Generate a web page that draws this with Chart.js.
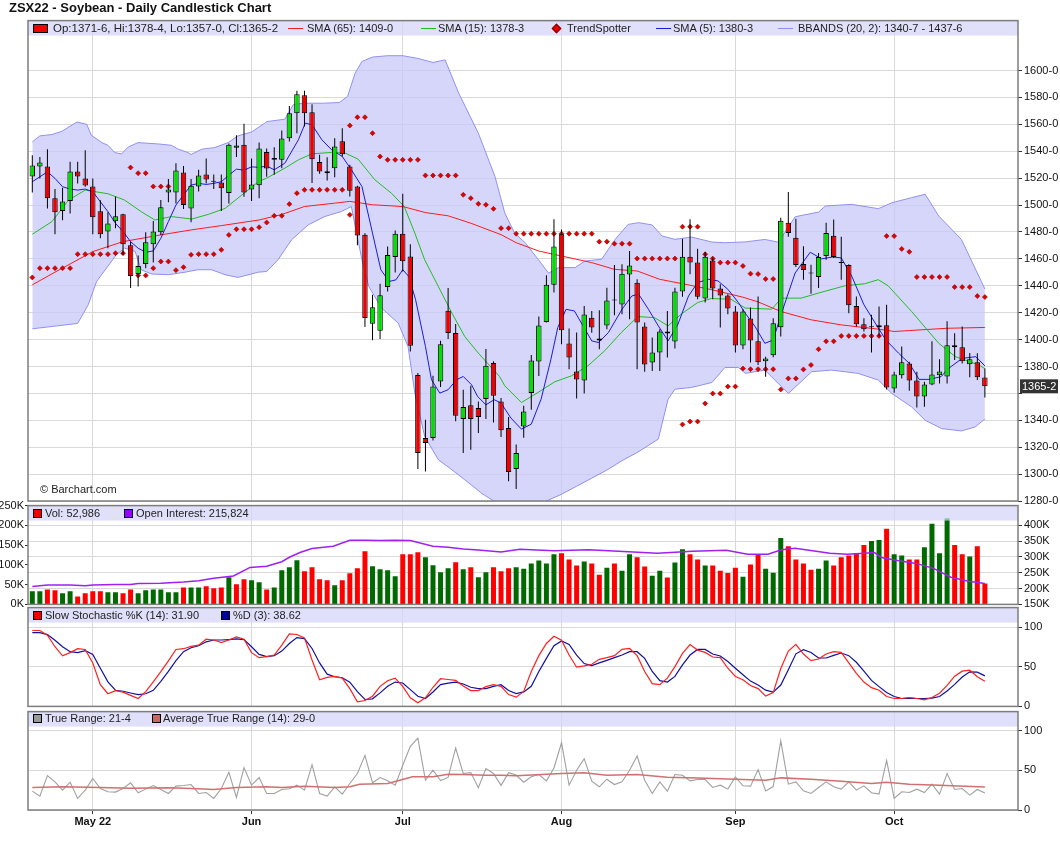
<!DOCTYPE html>
<html>
<head>
<meta charset="utf-8">
<title>ZSX22 - Soybean - Daily Candlestick Chart</title>
<script src="https://cdn.jsdelivr.net/npm/chart.js@4.4.1/dist/chart.umd.min.js"></script>
<style>
  body { margin: 0; background: #fff; font-family: "Liberation Sans", Arial, sans-serif; }
  #wrap { position: relative; width: 1060px; height: 851px; overflow: hidden; }
  canvas { position: absolute; left: 0; }
  .lbl { position: absolute; font-size: 11px; line-height: 14px; color: #222; white-space: nowrap; z-index: 5; }
  .sq { position: absolute; width: 9px; height: 9px; border: 1px solid #000; box-sizing: border-box; z-index: 5; }
  .ln { position: absolute; width: 15px; height: 1px; z-index: 5; }
</style>
</head>
<body>
<div id="wrap">
  <div class="lbl" style="left:9px;top:1px;font-weight:bold;font-size:13px;color:#111">ZSX22 - Soybean - Daily Candlestick Chart</div>

  <canvas id="cMain" width="1060" height="500" style="top:12px"></canvas>
  <canvas id="cVol" width="1060" height="116" style="top:497px"></canvas>
  <canvas id="cSto" width="1060" height="116" style="top:599px"></canvas>
  <canvas id="cTr" width="1060" height="137" style="top:703px"></canvas>

  <!-- main legend -->
  <div class="sq" style="left:33px;top:24px;width:15px;background:#f00000"></div>
  <div class="lbl" style="left:53px;top:21px;font-size:11.5px">Op:1371-6, Hi:1378-4, Lo:1357-0, Cl:1365-2</div>
  <div class="ln" style="left:288px;top:28px;background:#ff1a1a"></div>
  <div class="lbl" style="left:307px;top:21px">SMA (65): 1409-0</div>
  <div class="ln" style="left:421px;top:28px;background:#22bb22"></div>
  <div class="lbl" style="left:438px;top:21px">SMA (15): 1378-3</div>
  <div style="position:absolute;left:553px;top:25px;width:5px;height:5px;background:#e00000;border:0.5px solid #800;transform:rotate(45deg);z-index:5"></div>
  <div class="lbl" style="left:567px;top:21px">TrendSpotter</div>
  <div class="ln" style="left:656px;top:28px;background:#1a1ae0"></div>
  <div class="lbl" style="left:673px;top:21px">SMA (5): 1380-3</div>
  <div class="ln" style="left:778px;top:28px;background:#9090f0"></div>
  <div class="lbl" style="left:798px;top:21px">BBANDS (20, 2): 1340-7 - 1437-6</div>
  <div class="lbl" style="left:40px;top:482px">© Barchart.com</div>

  <!-- volume legend -->
  <div class="sq" style="left:33px;top:509px;background:#f00000"></div>
  <div class="lbl" style="left:45px;top:506px">Vol: 52,986</div>
  <div class="sq" style="left:124px;top:509px;background:#9900ff"></div>
  <div class="lbl" style="left:136px;top:506px">Open Interest: 215,824</div>

  <!-- stochastic legend -->
  <div class="sq" style="left:33px;top:611px;background:#f00000"></div>
  <div class="lbl" style="left:45px;top:608px">Slow Stochastic %K (14): 31.90</div>
  <div class="sq" style="left:221px;top:611px;background:#000099"></div>
  <div class="lbl" style="left:233px;top:608px">%D (3): 38.62</div>

  <!-- true range legend -->
  <div class="sq" style="left:33px;top:714px;background:#999"></div>
  <div class="lbl" style="left:45px;top:711px">True Range: 21-4</div>
  <div class="sq" style="left:152px;top:714px;background:#cc6666"></div>
  <div class="lbl" style="left:163px;top:711px">Average True Range (14): 29-0</div>
</div>

<script>
// ---- price candles (one per trading day) ----
var opens = [1521.2,1528.6,1528.6,1505.0,1495.6,1503.0,1524.9,1519.8,1513.8,1495.3,
  1480.3,1487.9,1493.1,1470.1,1448.7,1456.1,1470.9,1479.8,1509.4,1509.4,
  1524.2,1497.5,1513.8,1522.7,1517.3,1516.8,1508.9,1542.5,1544.9,1511.6,
  1514.8,1539.5,1534.9,1533.6,1549.7,1568.3,1581.7,1569.0,1531.9,1525.2,
  1527.4,1547.5,1528.7,1513.8,1477.9,1411.8,1406.5,1439.0,1461.3,1478.6,
  1461.8,1373.6,1326.8,1326.8,1368.9,1421.4,1404.8,1340.9,1351.1,1349.1,
  1355.8,1382.5,1354.0,1334.2,1303.8,1335.4,1360.2,1383.7,1413.1,1440.8,
  1478.2,1397.0,1376.3,1369.6,1416.3,1399.3,1410.4,1429.0,1426.0,1448.3,
  1442.3,1409.7,1382.9,1390.4,1406.0,1398.5,1435.7,1461.6,1457.2,1430.5,
  1458.7,1437.9,1432.7,1420.8,1395.6,1415.6,1398.7,1383.8,1388.3,1409.2,
  1486.8,1475.6,1456.2,1449.2,1446.5,1462.2,1477.1,1457.0,1455.5,1424.9,
  1411.4,1409.2,1409.2,1410.7,1363.7,1373.4,1382.3,1369.6,1357.7,1366.6,
  1373.4,1372.6,1394.3,1394.3,1381.6,1383.1,1371.75];
var highs = [1537.0,1535.8,1541.5,1511.9,1512.8,1532.1,1532.1,1540.7,1519.8,1503.5,
  1494.6,1506.4,1493.6,1472.8,1462.5,1479.8,1488.2,1503.7,1519.3,1531.1,
  1529.1,1519.3,1526.2,1534.6,1522.7,1522.7,1545.7,1551.9,1560.5,1534.6,
  1546.4,1542.0,1543.0,1555.4,1573.7,1584.9,1584.9,1575.0,1537.3,1535.6,
  1549.7,1557.1,1529.9,1514.3,1479.1,1433.3,1441.5,1469.2,1481.1,1508.4,
  1470.9,1375.1,1340.4,1373.1,1399.1,1438.3,1411.5,1362.7,1365.7,1354.0,
  1392.9,1383.8,1356.5,1342.4,1322.0,1350.8,1388.6,1417.1,1447.8,1489.4,
  1481.9,1408.2,1405.2,1425.0,1421.3,1421.8,1438.6,1455.4,1456.0,1465.8,
  1444.8,1412.6,1401.5,1407.7,1421.3,1438.6,1475.0,1489.4,1467.6,1465.1,
  1460.9,1441.1,1433.7,1425.0,1422.5,1423.8,1432.1,1387.3,1415.9,1490.5,
  1509.7,1489.8,1469.4,1455.7,1464.4,1486.8,1489.3,1476.4,1456.0,1432.1,
  1415.9,1418.4,1424.6,1425.9,1376.1,1394.8,1383.6,1376.1,1368.6,1398.7,
  1385.3,1413.7,1404.7,1409.7,1390.0,1389.8,1378.5];
var lows = [1509.4,1519.8,1497.5,1478.3,1488.6,1493.8,1516.1,1513.6,1478.3,1475.3,
  1467.9,1482.7,1463.0,1438.3,1439.5,1453.0,1457.3,1477.8,1502.0,1501.2,
  1497.0,1487.2,1510.0,1516.0,1512.0,1495.6,1501.2,1535.8,1506.2,1503.0,
  1505.0,1521.0,1522.5,1527.4,1547.2,1553.4,1558.4,1516.3,1523.2,1518.3,
  1520.7,1536.1,1506.4,1470.2,1409.3,1399.4,1400.4,1435.8,1449.9,1450.6,
  1391.2,1303.8,1302.0,1325.0,1364.7,1400.4,1339.2,1315.6,1318.1,1330.5,
  1340.9,1338.4,1327.5,1294.6,1289.0,1327.0,1347.8,1373.0,1412.6,1434.9,
  1396.5,1378.0,1356.2,1359.9,1405.0,1392.8,1407.7,1418.1,1418.8,1415.1,
  1378.0,1376.0,1376.7,1376.7,1386.6,1393.3,1431.9,1448.5,1430.0,1427.5,
  1430.0,1408.9,1418.8,1390.4,1392.8,1383.0,1381.1,1372.4,1386.8,1402.2,
  1476.4,1454.0,1444.5,1434.1,1438.3,1459.4,1460.7,1444.5,1419.6,1409.7,
  1406.0,1390.3,1402.2,1362.9,1360.4,1371.1,1361.9,1349.5,1350.0,1366.0,
  1367.4,1367.4,1384.8,1382.3,1372.0,1369.9,1357.0];
var closes = [1529.4,1531.6,1505.0,1494.6,1502.7,1524.9,1521.2,1514.6,1490.9,1478.3,
  1486.2,1491.6,1470.9,1447.2,1454.6,1472.4,1480.3,1498.3,1511.6,1525.7,
  1500.0,1514.3,1522.0,1519.0,1517.3,1512.4,1544.9,1544.2,1509.4,1515.3,
  1542.0,1527.2,1533.6,1549.5,1568.3,1582.4,1568.3,1534.1,1525.0,1523.7,
  1543.5,1537.8,1510.6,1477.4,1416.0,1424.1,1433.0,1462.8,1478.6,1458.3,
  1395.4,1315.6,1323.1,1365.2,1396.6,1404.8,1343.4,1349.8,1340.9,1342.4,
  1380.5,1358.3,1332.5,1301.5,1315.6,1346.6,1384.4,1410.4,1440.8,1469.1,
  1406.9,1386.6,1370.3,1418.6,1408.9,1400.8,1429.0,1429.0,1449.0,1455.0,
  1412.6,1381.4,1390.4,1406.0,1404.5,1435.7,1461.6,1457.2,1431.9,1461.6,
  1437.9,1432.7,1423.0,1395.6,1420.8,1399.3,1383.1,1386.0,1412.2,1488.3,
  1479.3,1455.5,1451.7,1449.2,1461.4,1479.3,1461.4,1457.0,1425.6,1411.4,
  1407.7,1409.2,1410.7,1364.4,1374.1,1383.1,1369.6,1357.7,1366.6,1374.1,
  1376.3,1395.8,1395.8,1383.8,1385.3,1371.9,1365.25];

// ---- overlays: [day, value] ----
var sma65 = [[0,1440.7],[3,1450.1],[8,1465.4],[12,1472.8],[17,1477.8],[21,1481.5],[25,1484.7],[30,1488.9],
  [33,1493],[36,1498.9],[40,1501.4],[42,1502.7],[45,1500.2],[49,1498.9],[52,1494.4],[55,1492],[58,1486.5],
  [62,1478],[64,1472],[67,1465.8],[70,1462.1],[74,1457.2],[77,1452.2],[80,1451],[83,1444.8],[87,1440.4],
  [90,1436.9],[94,1431.5],[96,1428],[99,1420.9],[103,1414.7],[107,1410.9],[112,1407.7],[114,1406],
  [116,1406.7],[121,1408.4],[126,1409.0]];
var sma15 = [[0,1478.3],[2.6,1487.7],[4.8,1503.7],[7,1511.1],[10,1508.4],[12.2,1503.7],[14.4,1495.1],
  [16.2,1488.9],[18.4,1491.4],[21.1,1489.6],[23.3,1493.1],[25.5,1497.5],[27.7,1507.4],[29.9,1517.3],
  [31,1520],[33.4,1527.4],[35.2,1533.6],[37,1538.1],[39.6,1539.1],[41.4,1538.6],[43.1,1534.1],
  [45.3,1518.8],[47.5,1508.8],[49.2,1498.9],[50.6,1479.1],[51.9,1459.3],[53.7,1439.5],[55.5,1419.7],
  [57.2,1402.3],[59,1389.9],[61.8,1372.6],[62.5,1365.6],[64.7,1353.2],[66.9,1360.7],[69.1,1368.6],
  [71.3,1373],[73.5,1380.5],[75.7,1391.6],[77.9,1405.2],[80.1,1417.1],[82.3,1416.3],[84.1,1410.2],
  [85.8,1418.8],[88,1427.5],[89.8,1430.5],[92.4,1430],[94.3,1423.4],[97.8,1422.6],[99.1,1430.8],
  [101.7,1430.8],[104,1434.6],[107.5,1440],[110.1,1441.5],[111.9,1444.5],[113.2,1440],[116.3,1420.9],
  [119.9,1397.2],[122.1,1387.3],[125.2,1381.1],[126,1378.4]];
var sma5 = [[0,1517.3],[1,1521],[2,1524.7],[3,1519.8],[4,1513.6],[5,1511.9],[6,1511.1],[7,1511.9],
  [8,1509.9],[9,1502.5],[10,1495.1],[11,1486.4],[12,1480.3],[13,1472.8],[14,1467.9],[15,1464.9],
  [16,1465.9],[17,1475.3],[18,1487.7],[19,1500],[20,1507.4],[21,1514.8],[22,1516.1],[23,1515.3],
  [24,1516.1],[25,1517.3],[26,1522.2],[27,1526.7],[28,1525.9],[29,1528.4],[30,1528],[31,1529],
  [32,1526.2],[33.4,1531.1],[35.2,1548.5],[36.1,1560.9],[37,1559.6],[38.3,1548.5],[39.6,1541],
  [41,1536.1],[42.2,1526.2],[43.6,1513.8],[45,1479.1],[46.1,1451.9],[47.2,1443.2],[48.1,1444.4],
  [49,1451.9],[49.8,1446.9],[50.7,1429.6],[52,1394.9],[52.8,1370.1],[53.9,1360.2],[55,1362.7],
  [56.1,1370.1],[57,1372.6],[58.1,1366.4],[58.9,1357.7],[60,1351.5],[61.1,1355.3],[62,1352.8],
  [63.3,1341.7],[64.7,1333.4],[66,1337.1],[67.3,1355.7],[68.6,1385.4],[69.5,1408.9],[70.6,1422.5],
  [71.7,1421.3],[73.1,1407.7],[74,1399],[74.9,1397.8],[76.2,1405.2],[78,1422.5],[79.3,1432.4],
  [80.2,1433.7],[81.5,1422.5],[82.8,1410.2],[84.1,1399],[85.4,1411.4],[86.8,1432.4],[88,1442.3],
  [89.4,1444.8],[90.7,1443.6],[92,1437.4],[93.4,1427.5],[94.3,1419.6],[95.6,1409.7],[96.9,1397.2],
  [98,1399.7],[99.1,1419.6],[100.9,1449.5],[102.9,1464.9],[104.4,1460],[105.9,1461.4],[107,1460.7],
  [108.4,1447],[110,1425.9],[111.5,1412.2],[112.9,1399.7],[114.6,1389.8],[116,1382.3],[117.3,1370.4],
  [118.6,1370.4],[120.2,1372.4],[121.2,1378.6],[123,1386],[124.8,1387.3],[126,1380.4]];
var bbUpper = [[0,1546.9],[1,1551.4],[2.6,1552.4],[3.9,1554.8],[5.9,1561.7],[7.2,1560],[7.8,1551.9],
  [9.2,1546.4],[10,1544.4],[10.9,1539],[11.8,1538],[12.7,1543.2],[14,1546.4],[16.7,1545.4],[18.4,1544.4],
  [19.3,1541.5],[20.6,1539],[21,1537.5],[22.4,1541.5],[24.1,1542.7],[25.9,1546.4],[27.2,1551.4],
  [29,1554.3],[30.7,1560.7],[31,1562],[33.4,1563.8],[34.5,1574.5],[35.8,1575.7],[38.5,1575.7],
  [40.6,1576.2],[41.7,1580.7],[42.7,1598],[43.6,1606.7],[45,1610],[47,1611],[49,1611],[51,1609],
  [53,1606],[54.6,1607.9],[56.4,1583.2],[59,1553.4],[61.2,1521.2],[62.5,1494],[63.8,1479.1],
  [65.2,1472],[66.9,1459.7],[68.3,1449.3],[69.6,1453.5],[71.8,1453.5],[73.1,1458.4],[75.3,1459.7],
  [77.1,1474.5],[78.8,1485.6],[80.2,1486.9],[82,1485.2],[83.3,1477],[85,1474.5],[87.2,1476.2],
  [89.9,1472.5],[91.6,1472],[94.3,1472.6],[96.9,1474.4],[98.7,1472.4],[100.9,1491.3],[104,1494.8],
  [104.9,1499.3],[108.4,1500.5],[111.9,1497.3],[113.7,1501.7],[116.3,1505.5],[118.1,1508],
  [119.9,1491.8],[122.9,1474.4],[126,1437.6]];
var bbLower = [[0,1408],[3,1410],[6,1412],[7.4,1425.9],[8.5,1443.2],[9.8,1453],[11.1,1463],[12.2,1468],
  [13.6,1465.5],[14.4,1451.9],[15.8,1448.7],[18,1448.2],[20.2,1450.1],[21.9,1451.9],[23.7,1451.9],
  [25.5,1448.2],[27.2,1446.2],[29.9,1450.1],[31,1450.6],[32.5,1459.3],[34.3,1474.2],[36.5,1485.3],
  [38.7,1491.5],[40.9,1495.2],[42.2,1498.9],[43.6,1459.3],[44.5,1439.5],[46.2,1423.4],[48.4,1412.2],
  [49.7,1394.9],[50.6,1360.2],[51.9,1328],[53.7,1310.7],[55.5,1303.2],[57.2,1295.8],[59.4,1285.9],
  [61,1280],[63,1277],[64,1276],[66,1277],[68,1280],[70,1285],[72,1291],[74,1297],[76,1303],[78,1310],
  [80,1316],[82.8,1326],[84.1,1355.7],[85,1363.1],[87.2,1364.4],[89.9,1368.1],[91.6,1379.2],
  [93.4,1379.2],[94.3,1374.9],[96.9,1377.3],[100,1359.9],[103.1,1376.1],[105.7,1377.3],[109.2,1374.9],
  [111.9,1369.9],[113.7,1359.9],[116.3,1350],[118.1,1340],[120.3,1333.8],[122.9,1332.1],
  [124.7,1335],[126,1340.9]];
var tsUpper = [[13,1527.9],[14,1523.7],[15,1523.7],[16,1513.8],[17,1513.8],[18,1513.8],
  [42,1559.1],[43,1565.3],[44,1565.3],[45,1553.4],[46,1536.1],[47,1533.6],[48,1533.6],[49,1533.6],
  [50,1533.6],[51,1533.6],[52,1522],[53,1522],[54,1522],[55,1522],[56,1522],[57,1507.6],[58,1505.1],
  [59,1500.9],[60,1500.2],[61,1497.2],[62,1482.8],[63,1482.8],[64,1478.7],[65,1478.7],[66,1478.7],
  [67,1478.7],[68,1478.7],[69,1478.7],[70,1478.7],[71,1478.7],[72,1478.7],[73,1478.7],[74,1478.7],
  [75,1472.8],[76,1472.8],[77,1471.3],[78,1471.3],[79,1471.3],[80,1460.2],[81,1460.2],[82,1460.2],
  [83,1460.2],[84,1460.2],[85,1460.2],[86,1483.9],[87,1483.9],[88,1483.9],[89,1463.4],[90,1460.2],
  [91,1457.2],[92,1457.2],[93,1457.2],[94,1454.7],[95,1449],[96,1448.7],[97,1445],[98,1445],
  [113,1476.9],[114,1476.9],[115,1467.4],[116,1465.2],[117,1446.5],[118,1446.5],[119,1446.5],
  [120,1446.5],[121,1446.5],[122,1439],[123,1439],[124,1439],[125,1432.3],[126,1431.6]];
var tsLower = [[0,1446.2],[1,1453.1],[2,1453.1],[3,1453.1],[4,1453.1],[5,1453.1],[6,1463.5],[7,1463.5],
  [8,1463.5],[9,1463.5],[10,1463.5],[11,1464.2],[12,1464.2],[14,1447.7],[15,1447.7],[16,1453.1],
  [17,1458],[18,1458],[19,1451.6],[20,1453.8],[21,1463],[22,1463.5],[23,1463.5],[24,1463.5],
  [25,1466.7],[26,1477.8],[27,1482],[28,1482],[29,1482],[30,1483.5],[31,1487],[32,1492],[33,1492],
  [34,1500.7],[35,1508.8],[36,1511.3],[37,1511.3],[38,1511.3],[39,1511.3],[40,1511.3],[41,1511.3],
  [42,1492.7],[86,1336.9],[87,1339.1],[88,1339.1],[89,1352.5],[90,1359.9],[91,1359.9],[92,1365.1],
  [93,1365.1],[94,1378.5],[95,1378],[96,1378],[97,1378],[98,1378],[99,1362.9],[100,1371.1],
  [101,1371.1],[102,1377.8],[103,1381.1],[104,1392.8],[105,1398.7],[106,1398.7],[107,1402.7],
  [108,1402.7],[109,1402.7],[110,1402.7],[111,1402.7],[112,1402.7]];

// ---- volume (thousands) and open interest ----
var volume = [33,33,38,35.6,28,33,20,28,33,33,
  30.5,30.5,28,38,28,35.6,38,38,30.5,30.5,
  43,43,43,45.8,40.7,43,68.6,50.8,63.6,61,
  56,38,43,86.4,94,112,84,94,63.6,61,
  48.3,61,78.8,91.5,134.7,96.6,89,86.4,71.2,127,
  127,132,119.5,99,81.4,91.5,106.8,89,94,68.6,
  81.4,94,84,91.5,94,90.5,103.4,111,103.4,126.7,
  129.3,113.8,98.3,108.6,103.4,75,93,103.4,85.3,126.7,
  119,95.7,72.4,85.3,68.1,106,139.6,126.7,113.8,98.3,
  98.3,85.3,79.3,93,69.8,100.9,126.7,90.5,80.2,168,
  147.4,113.8,103.4,87.9,90.5,111.2,98.3,119,124,129.3,
  150,160.3,163,191.4,126.7,124,113.8,113.8,144.8,204.3,
  129.3,218,150,126.7,121.5,147.4,52.986];
var volDir = 'GGRRGGRRRR' + 'GGRRGGGGGG' + 'RGGRRRGRRG' + 'GRGGGGRRRR' + 'GRRRRGGGGR' +
  'RRGGGGRGRG' + 'GRRRGGGGGG' + 'RRRGRRGRGG' + 'RRGGRGGRRG' + 'RRRRGRRGGG' +
  'RRRRGGRRRR' + 'RGGRGGRRGG' + 'GGRRGRR';
var openInt = [[0,207],[2,211],[5,211],[7,209],[8,211],[11,213],[13,213],[14,216],[17,217],[20,221],
  [22,225],[24,233],[26.6,240],[28.8,267],[31,271],[33,285],[34,299],[35.4,314],[37,327],[39.8,334],
  [42,353],[44,353],[46,352],[48,353],[50,352],[53,334],[55,331],[57,325],[59,322],[62,316],
  [64.5,324.7],[69,319.5],[73.6,322.6],[78.2,317.4],[82.7,312],[87.3,318.4],[91.8,321.5],[94.6,309],
  [97.3,309],[99.1,322.6],[100.9,327.8],[103.2,319.5],[105.5,312],[107.8,309],[110,312],[111.4,314],
  [112.3,298.5],[114.6,288],[116.9,279.7],[119.2,264],[121.5,235.8],[123.8,223],[126,215.8]];

// ---- slow stochastic ----
var stochK = [96,96,90,75.5,64,68,73,72,55,27.5,
  16,20,18,14,10,18.75,31,44,57.5,72,
  73,76,77.5,85,84,80.8,84,88,85,68,
  61.7,63,65,77.5,91.7,91,86.7,58.8,33.75,36.7,
  38,35.8,22.5,5.8,7.5,12.9,25.4,32.5,35.8,25.4,
  10.8,4.6,10.8,24.2,35,34,32.9,25.8,20,20,
  25,27.5,25.4,15,11.7,19,44.2,64.2,79.6,88.75,
  83.75,65,49.6,51.25,53.3,59.6,61.7,64.2,72.1,73.3,
  64.2,44.2,28.75,27.5,35.8,50.4,67.1,78.3,71.25,68.3,
  62.5,61.7,48.3,37.9,33.75,26.5,22.5,13,17.5,48,
  70,78.5,66.25,57.9,60,66.25,69.2,68.3,55,41.7,
  30.8,23.75,20.4,12.5,10,10,11.25,10,8.3,11.25,
  16.7,26.7,38.3,44.6,45.8,37.5,31.9];
var stochD = [93.3,93.3,90.8,83.75,75.4,69.2,68,70.4,65.8,48.3,
  31,20.4,19.2,17,15,16,20.4,31.7,44.2,58,
  69.2,74.2,76.7,81.7,84,84,84.6,85.4,84.6,75.4,
  65.8,63,64.2,70,79.6,87,85.8,73.3,55,40.8,
  37.5,36.25,30.6,18.75,8.75,9.6,17.1,25.4,30.8,29.6,
  21.25,12.9,10,18.3,27.5,29.5,30.8,28.3,24.2,22.5,
  22.5,25.4,27.5,20,16.25,18.3,25.4,44.2,60.8,76.7,
  82.9,78.3,65,54.2,51.7,55,58.3,61.7,65,69.2,
  69.2,60.8,44.2,32.5,30.8,37.9,52.5,65,72.1,72.1,
  66.25,63.75,56.7,48.3,40,32,27,20.5,18,27,
  46.5,66.5,71.7,68.3,61.25,61.25,64.6,67.5,64.2,55.8,
  44.6,32.9,25,17.5,12.5,10,10.4,10,10,10.4,
  12.5,19.6,27.9,37.1,43.75,43.3,38.62];

// ---- true range ----
var trueRange = [23.75,17.5,43.3,35.4,25,35,14.6,25,39.6,27,
  22.9,22.5,27,34.2,21.7,26.25,30.8,25.8,20.8,30,
  30.8,32,20.8,22,14.6,27,47.5,15.8,53.3,31.25,
  40.8,20.8,20.8,25.8,26.7,31.25,25,57,20.8,17.5,
  29.2,20,33.3,45.8,68.75,34.2,40.8,36.7,31.25,56.25,
  80,90.4,37.5,50,37,41,78,46,47,28,
  52,46,31,47,44,35,41.7,44.6,36.7,52.9,
  84.6,31.25,50,64.6,36.25,29.2,38.75,32,35.4,50,
  67.9,37.5,20.8,35.4,23.75,44.6,43.75,36.7,38.3,38.3,
  28.3,31.25,26.25,41.7,30.5,30,50.8,24,29.5,87,
  32.5,35.4,24.2,20.8,28.3,35.4,29.2,26.25,35.4,25,
  30.4,21.7,20,62.5,14.6,22.9,22,26.25,22,32.5,
  20,45.8,25.8,27,18.75,25.8,21.5];
var avgTrueRange = [[0,28.3],[4,29.2],[9,28.3],[13,27.5],[18,28],[22,26.7],[24,25.8],[27,28.3],[31,29.2],
  [33,28.3],[36,30],[40,28.3],[42,29.2],[43.3,32.5],[47,33.3],[48.6,37.5],[50.3,41.7],[53,41.7],[55,45],
  [57,44.6],[60,43.75],[62,43.75],[64,43],[70,45.8],[73,46.7],[76,43.75],[80,44.6],[84,41.25],[88,40.4],
  [93,38.75],[97,37.5],[99,40.4],[103,38.75],[107,36.25],[111,33.3],[113,35],[116,32.5],[120,31.25],
  [126,29.0]];

// ---- axis ticks ----
var monthIdx = [8, 29, 49, 70, 93, 114];
var monthNames = ['May 22', 'Jun', 'Jul', 'Aug', 'Sep', 'Oct'];
var priceTicks = [1280,1300,1320,1340,1360,1380,1400,1420,1440,1460,1480,1500,1520,1540,1560,1580,1600];
var volTicks = [0, 50, 100, 150, 200, 250];
var oiTicks = [150, 200, 250, 300, 350, 400];
var oscTicks = [0, 50, 100];

// -------------------------------------------------------------
var FONT = '"Liberation Sans", Arial, sans-serif';
var X_MIN = -0.57, X_MAX = 130.38;
var UP = '#00e000', DOWN = '#f00000';
var GRID = '#d9d9d9';
var lastClose = closes[closes.length - 1];

var days = closes.map(function (_, i) { return i; });
function pts(pairs) { return pairs.map(function (p) { return { x: p[0], y: p[1] }; }); }
function series(arr) { return arr.map(function (v, i) { return { x: i, y: v }; }); }
function eighths(v) {
  var w = Math.floor(v);
  return w + '-' + Math.round((v - w) * 8);
}

function xAxis(showLabels) {
  return {
    type: 'linear', min: X_MIN, max: X_MAX, offset: false,
    afterBuildTicks: function (s) { s.ticks = monthIdx.map(function (v) { return { value: v }; }); },
    afterFit: function (s) { s.height = showLabels ? 30 : 0; },
    grid: { color: GRID, offset: false, drawTicks: showLabels, tickLength: 4, tickColor: '#333' },
    border: { display: false },
    ticks: {
      display: showLabels, autoSkip: false, maxRotation: 0, padding: 1, color: '#111',
      font: { family: FONT, size: 11, weight: 'bold' },
      callback: function (v, i) { return monthNames[i]; }
    }
  };
}

function yRight(min, max, list, fmt) {
  return {
    position: 'right', min: min, max: max,
    afterBuildTicks: function (s) { s.ticks = list.map(function (v) { return { value: v }; }); },
    afterFit: function (s) { s.width = 42; },
    grid: { color: GRID, tickLength: 4, tickColor: '#333' },
    border: { display: false },
    ticks: { padding: 2, color: '#111', autoSkip: false, font: { family: FONT, size: 11 }, callback: fmt }
  };
}

// lavender header strip and grey frame for each panel
var panelPlugin = {
  id: 'panel',
  afterDatasetsDraw: function (chart) {
    var a = chart.chartArea, c = chart.ctx;
    c.save();
    c.fillStyle = 'rgba(212,212,250,0.72)';
    c.fillRect(a.left, a.top, a.right - a.left, 15);
    c.strokeStyle = '#7d7d7d';
    c.lineWidth = 1.5;
    c.strokeRect(a.left, a.top, a.right - a.left, a.bottom - a.top);
    c.restore();
  }
};

// dark box with the last close on the price axis
var lastPricePlugin = {
  id: 'lastPrice',
  afterDraw: function (chart) {
    var y = chart.scales.y.getPixelForValue(lastClose);
    var x = chart.chartArea.right + 2;
    var c = chart.ctx;
    c.save();
    c.fillStyle = '#333';
    c.fillRect(x, y - 7, 38, 14);
    c.fillStyle = '#fff';
    c.font = '11px ' + FONT;
    c.textBaseline = 'middle';
    c.fillText(eighths(lastClose), x + 2, y + 0.5);
    c.restore();
  }
};

var base = {
  responsive: false, animation: false, events: [],
  plugins: { legend: { display: false }, tooltip: { enabled: false } }
};
function opts(extra) { return Object.assign({}, base, extra); }

function line(data, color, width, order, more) {
  return Object.assign({ type: 'line', data: data, borderColor: color, borderWidth: width,
    pointRadius: 0, tension: 0, fill: false, order: order }, more || {});
}

// price panel
new Chart(document.getElementById('cMain'), {
  type: 'bar',
  data: {
    datasets: [
      line(pts(bbUpper), '#9090f0', 1, 10, { fill: '+1', backgroundColor: 'rgba(200,200,250,0.75)' }),
      line(pts(bbLower), '#9090f0', 1, 9),
      line(pts(sma65), '#ff1a1a', 1, 6),
      line(pts(sma15), '#22bb22', 1, 5),
      line(pts(sma5), '#1a1ae0', 1, 4),
      { type: 'line', data: pts(tsUpper), showLine: false, pointStyle: 'rectRot', pointRadius: 2.5,
        pointBackgroundColor: '#e00000', pointBorderColor: '#900', pointBorderWidth: 0.6, order: 3 },
      { type: 'line', data: pts(tsLower), showLine: false, pointStyle: 'rectRot', pointRadius: 2.5,
        pointBackgroundColor: '#e00000', pointBorderColor: '#900', pointBorderWidth: 0.6, order: 3 },
      { type: 'bar', data: days.map(function (i) { return { x: i, y: [lows[i], highs[i]] }; }),
        backgroundColor: '#000', grouped: false, maxBarThickness: 1, order: 2 },
      { type: 'bar', data: days.map(function (i) { return { x: i, y: [opens[i], closes[i]] }; }),
        backgroundColor: function (c) {
          if (!c.raw) return UP;
          var o = c.raw.y[0], cl = c.raw.y[1];
          return cl > o ? UP : (cl < o ? DOWN : '#000');
        },
        borderColor: '#000', borderWidth: 1, borderSkipped: false, minBarLength: 1,
        grouped: false, maxBarThickness: 6, order: 1 }
    ]
  },
  options: opts({
    layout: { padding: { left: 28, top: 8, bottom: 11, right: 0 } },
    scales: {
      x: xAxis(false),
      // the tick hidden behind the last-price box is left blank
      y: yRight(1280, 1637.1, priceTicks, function (v) {
        return Math.abs(v - lastClose) < 9 ? '' : v + '-0';
      })
    }
  }),
  plugins: [panelPlugin, lastPricePlugin]
});

// volume / open interest panel
new Chart(document.getElementById('cVol'), {
  type: 'bar',
  data: {
    datasets: [
      line(pts(openInt), '#a020f0', 1.5, 0, { yAxisID: 'yo' }),
      { type: 'bar', yAxisID: 'yv', data: series(volume), grouped: false, maxBarThickness: 5, order: 1,
        backgroundColor: function (c) { return volDir[c.dataIndex] === 'G' ? '#006a00' : '#ff0000'; } }
    ]
  },
  options: opts({
    layout: { padding: { left: 0, top: 8, bottom: 8, right: 0 } },
    scales: {
      x: xAxis(false),
      yv: {
        position: 'left', min: 0, max: 250,
        afterBuildTicks: function (s) { s.ticks = volTicks.map(function (v) { return { value: v }; }); },
        afterFit: function (s) { s.width = 28; },
        grid: { drawOnChartArea: false, tickLength: 3, tickColor: '#333' },
        border: { display: false },
        ticks: { padding: 1, color: '#111', autoSkip: false, font: { family: FONT, size: 11 },
          callback: function (v) { return v + 'K'; } }
      },
      yo: yRight(150, 462.5, oiTicks, function (v) { return v + 'K'; })
    }
  }),
  plugins: [panelPlugin]
});

// slow stochastic panel
new Chart(document.getElementById('cSto'), {
  type: 'line',
  data: {
    datasets: [
      line(series(stochD), '#1010a0', 1.2, 1),
      line(series(stochK), '#ff2020', 1.2, 0)
    ]
  },
  options: opts({
    layout: { padding: { left: 28, top: 8, bottom: 8, right: 0 } },
    scales: {
      x: xAxis(false),
      y: yRight(0, 125, oscTicks, function (v) { return String(v); })
    }
  }),
  plugins: [panelPlugin]
});

// true range panel
new Chart(document.getElementById('cTr'), {
  type: 'line',
  data: {
    datasets: [
      line(pts(avgTrueRange), '#d07070', 1.5, 0),
      line(series(trueRange), '#a0a0a0', 1.1, 1)
    ]
  },
  options: opts({
    layout: { padding: { left: 28, top: 8, bottom: 0, right: 0 } },
    scales: {
      x: xAxis(true),
      y: yRight(0, 123.75, oscTicks, function (v) { return String(v); })
    }
  }),
  plugins: [panelPlugin]
});
</script>
</body>
</html>
